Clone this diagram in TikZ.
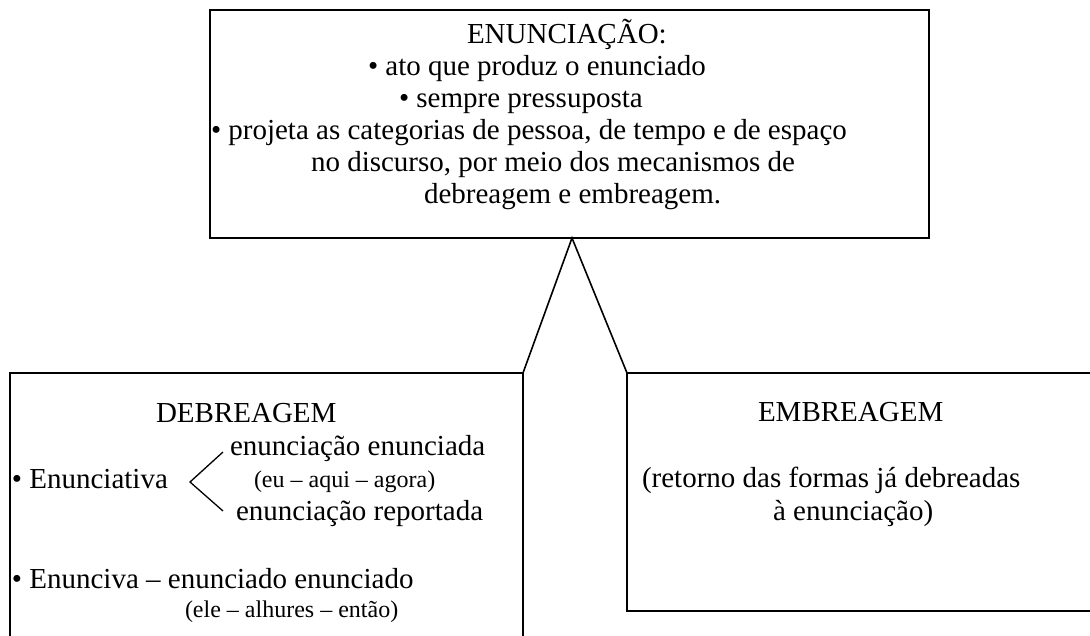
\documentclass[tikz,border=0pt]{standalone}
\usepackage{fontspec}
\setmainfont{Liberation Serif}
\begin{document}
\begin{tikzpicture}[x=1pt,y=-1pt,
  box/.style={draw=black, line width=1.6pt, fill=none, inner sep=0pt, outer sep=0pt, anchor=north west},
  txt/.style={anchor=base west, inner sep=0pt, outer sep=0pt, font=\fontsize{29}{31}\selectfont},
  small/.style={anchor=base west, inner sep=0pt, outer sep=0pt, font=\fontsize{24}{26}\selectfont},
  link/.style={draw=black, line width=1.6pt}]
\useasboundingbox (0,0) rectangle (1090,635);
\clip (0,0) rectangle (1090,635);
\fill[white] (0,0) rectangle (1090,635);
% boxes
\node[box, minimum width=719pt, minimum height=228pt] (enun) at (210,10) {};
\node[box, minimum width=513pt, minimum height=290pt] (debr) at (10,373) {};
\node[box, minimum width=490pt, minimum height=238pt] (embr) at (627,373) {};
\coordinate (apex) at (572,238);
\draw[link] (debr.north east) -- (apex) -- (embr.north west);
% top box text
\node[txt] (t1) at (467,43) {ENUNCIAÇÃO:};
\node[txt] (t2) at (368,75) {• ato que produz o enunciado};
\node[txt] (t3) at (399,107) {• sempre pressuposta};
\node[txt] (t4) at (211,139) {• projeta as categorias de pessoa, de tempo e de espaço};
\node[txt] (t5) at (311,171) {no discurso, por meio dos mecanismos de};
\node[txt] (t6) at (424,203) {debreagem e embreagem.};
% left box text
\node[txt] (d1) at (156,422) {DEBREAGEM};
\node[txt] (d2) at (230,455) {enunciação enunciada};
\node[txt] (d3) at (12,488) {• Enunciativa};
\node[small] (d4) at (254,487) {(eu – aqui – agora)};
\node[txt] (d5) at (236,520) {enunciação reportada};
\node[txt] (d6) at (12,588) {• Enunciva – enunciado enunciado};
\node[small] (d7) at (185,617) {(ele – alhures – então)};
\coordinate (bt) at (223,452);
\coordinate (bv) at (190,482);
\coordinate (bb) at (223,511);
\draw[black, line width=1.3pt] (bt) -- (bv) -- (bb);
% right box text
\node[txt] (e1) at (758,421) {EMBREAGEM};
\node[txt] (e2) at (642,487) {(retorno das formas já debreadas};
\node[txt] (e3) at (773,520) {à enunciação)};
\end{tikzpicture}
\end{document}
